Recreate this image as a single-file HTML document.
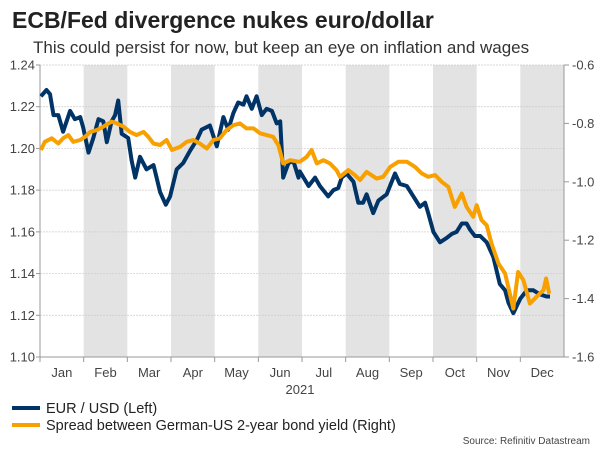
<!DOCTYPE html>
<html><head><meta charset="utf-8"><style>
body{margin:0;background:#fff;font-family:"Liberation Sans",sans-serif}
svg text{font-family:"Liberation Sans",sans-serif}
</style></head><body>
<svg width="600" height="450" viewBox="0 0 600 450">
<text x="12" y="28" font-size="23" font-weight="bold" fill="#222">ECB/Fed divergence nukes euro/dollar</text>
<text x="33" y="53" font-size="17" fill="#333">This could persist for now, but keep an eye on inflation and wages</text>
<g id="bands"></g><g id="grid"></g><g id="axes"></g><g id="series"></g>
<text x="300" y="394" font-size="13" fill="#444" text-anchor="middle">2021</text>
<line x1="12" y1="408" x2="40" y2="408" stroke="#003366" stroke-width="4"/>
<text x="46" y="413" font-size="14.5" fill="#222">EUR / USD (Left)</text>
<line x1="12" y1="425" x2="40" y2="425" stroke="#f7a000" stroke-width="4"/>
<text x="46" y="430" font-size="14.5" fill="#222">Spread between German-US 2-year bond yield (Right)</text>
<text x="590" y="444" font-size="10" fill="#444" text-anchor="end">Source: Refinitiv Datastream</text>
</svg>
<script>
const months=["Jan","Feb","Mar","Apr","May","Jun","Jul","Aug","Sep","Oct","Nov","Dec"];
const leftTicks=[1.10,1.12,1.14,1.16,1.18,1.20,1.22,1.24];
const rightTicks=[-1.6,-1.4,-1.2,-1.0,-0.8,-0.6];
const eurT=[0.02,0.15,0.23,0.31,0.42,0.53,0.61,0.69,0.80,0.92,0.99,1.11,1.22,1.34,1.45,1.53,1.64,1.72,1.79,1.87,2.02,2.10,2.18,2.29,2.44,2.60,2.67,2.75,2.88,2.98,3.13,3.28,3.44,3.59,3.70,3.89,4.05,4.20,4.31,4.43,4.54,4.66,4.73,4.85,4.96,5.08,5.19,5.31,5.42,5.50,5.57,5.69,5.80,5.92,5.95,6.15,6.30,6.41,6.60,6.72,6.83,6.91,7.02,7.18,7.29,7.40,7.48,7.63,7.75,7.94,8.13,8.24,8.40,8.55,8.70,8.82,8.89,9.01,9.16,9.31,9.43,9.54,9.66,9.77,9.85,9.96,10.08,10.23,10.38,10.53,10.65,10.73,10.84,11.00,11.15,11.30,11.45,11.60,11.68];
const eurV=[1.225,1.228,1.226,1.216,1.216,1.208,1.213,1.218,1.214,1.215,1.210,1.198,1.205,1.214,1.213,1.203,1.213,1.216,1.223,1.207,1.205,1.194,1.186,1.196,1.190,1.192,1.186,1.179,1.173,1.177,1.190,1.193,1.199,1.204,1.209,1.211,1.201,1.215,1.209,1.217,1.222,1.221,1.225,1.219,1.225,1.216,1.219,1.218,1.212,1.213,1.186,1.193,1.194,1.186,1.189,1.182,1.186,1.182,1.177,1.180,1.181,1.186,1.188,1.184,1.174,1.174,1.178,1.169,1.175,1.178,1.188,1.183,1.182,1.177,1.172,1.174,1.169,1.160,1.155,1.157,1.159,1.160,1.164,1.164,1.161,1.158,1.158,1.155,1.148,1.135,1.132,1.126,1.121,1.128,1.132,1.132,1.130,1.129,1.129];
const sprT=[0.02,0.11,0.27,0.42,0.53,0.65,0.76,0.92,1.03,1.15,1.30,1.45,1.64,1.76,1.91,2.06,2.21,2.37,2.48,2.60,2.75,2.90,3.02,3.21,3.36,3.51,3.66,3.82,3.97,4.12,4.27,4.43,4.58,4.73,4.89,5.04,5.19,5.34,5.46,5.57,5.73,5.92,5.95,6.11,6.22,6.34,6.49,6.64,6.79,6.87,7.06,7.21,7.33,7.48,7.71,7.86,8.02,8.21,8.40,8.59,8.74,8.89,9.05,9.20,9.35,9.50,9.66,9.77,9.92,10.00,10.11,10.23,10.34,10.50,10.65,10.84,10.95,11.07,11.22,11.37,11.53,11.59,11.66];
const sprV=[-0.891,-0.863,-0.851,-0.869,-0.851,-0.840,-0.863,-0.857,-0.846,-0.829,-0.823,-0.811,-0.794,-0.800,-0.811,-0.829,-0.840,-0.829,-0.846,-0.869,-0.874,-0.857,-0.891,-0.880,-0.863,-0.857,-0.869,-0.886,-0.857,-0.851,-0.823,-0.806,-0.800,-0.817,-0.817,-0.834,-0.840,-0.846,-0.875,-0.937,-0.926,-0.931,-0.931,-0.914,-0.891,-0.937,-0.926,-0.937,-0.960,-0.983,-0.960,-0.977,-0.994,-0.966,-0.989,-0.983,-0.949,-0.931,-0.931,-0.949,-0.971,-0.983,-0.977,-1.000,-1.017,-1.086,-1.040,-1.086,-1.120,-1.080,-1.131,-1.149,-1.211,-1.280,-1.314,-1.434,-1.309,-1.337,-1.417,-1.394,-1.371,-1.331,-1.383];
const NS="http://www.w3.org/2000/svg";
const X0=40,X1=564,Y0=65,Y1=357;
const x=m=>X0+m*(X1-X0)/12;
const yL=v=>Y1-(v-1.10)/(0.14)*(Y1-Y0);
const yR=v=>Y1-(v+1.6)/(1.0)*(Y1-Y0);
function mk(tag,attrs,parent){const e=document.createElementNS(NS,tag);for(const k in attrs)e.setAttribute(k,attrs[k]);document.getElementById(parent).appendChild(e);return e;}
months.forEach((m,i)=>{
  if(i%2===1){const r=mk('rect',{x:x(i),y:Y0,width:x(i+1)-x(i),height:Y1-Y0,fill:'#e3e3e3'},'bands');
    
    }
  const t=mk('text',{x:(x(i)+x(i+1))/2,y:377,'font-size':13,fill:'#444','text-anchor':'middle'},'axes');t.textContent=m;
  
  
  mk('line',{x1:x(i),y1:Y1,x2:x(i),y2:Y1+5,stroke:'#999'},'axes');
});
leftTicks.forEach(v=>{
  mk('line',{x1:X0,y1:yL(v),x2:X1,y2:yL(v),stroke:'#ccc','stroke-dasharray':'2,1','stroke-width':0.7},'grid');
  mk('line',{x1:X0-4,y1:yL(v),x2:X0,y2:yL(v),stroke:'#999'},'axes');
  const t=mk('text',{x:X0-5,y:yL(v)+4.5,'font-size':13,fill:'#444','text-anchor':'end'},'axes');t.textContent=v.toFixed(2);
  
  
});
rightTicks.forEach(v=>{
  mk('line',{x1:X1,y1:yR(v),x2:X1+5,y2:yR(v),stroke:'#999'},'axes');
  const t=mk('text',{x:X1+8,y:yR(v)+4.5,'font-size':13,fill:'#444'},'axes');t.textContent=v.toFixed(1);
  
  
});
mk('line',{x1:X0,y1:Y0,x2:X0,y2:Y1,stroke:'#999'},'axes');
mk('line',{x1:X1,y1:Y0,x2:X1,y2:Y1,stroke:'#999'},'axes');
mk('line',{x1:X0,y1:Y1,x2:X1,y2:Y1,stroke:'#999'},'axes');
const pe=mk('path',{d:eurT.map((t,i)=>(i?'L':'M')+x(t).toFixed(1)+','+yL(eurV[i]).toFixed(1)).join(''),fill:'none',stroke:'#003366','stroke-width':4,'stroke-linejoin':'round'},'series');


const ps=mk('path',{d:sprT.map((t,i)=>(i?'L':'M')+x(t).toFixed(1)+','+yR(sprV[i]).toFixed(1)).join(''),fill:'none',stroke:'#f7a000','stroke-width':4,'stroke-linejoin':'round'},'series');


</script>
</body></html>
